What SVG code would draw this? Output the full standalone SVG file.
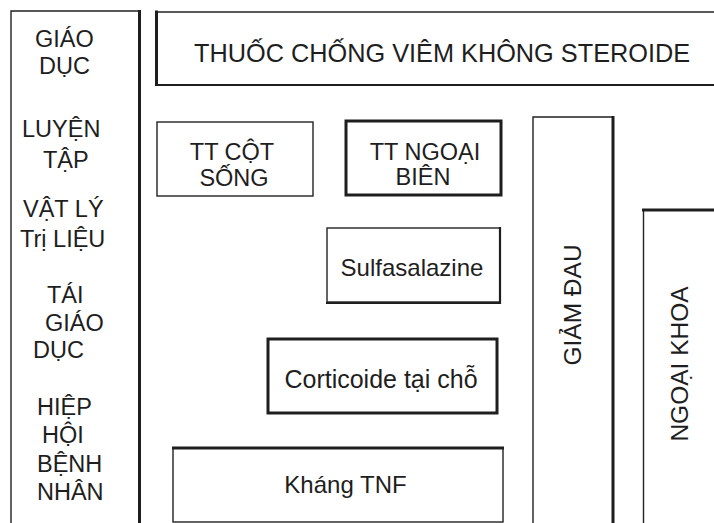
<svg xmlns="http://www.w3.org/2000/svg" width="714" height="523" viewBox="0 0 714 523">
<style>
text{font-family:"Liberation Sans",Arial,Helvetica,sans-serif;fill:#1e1e1e}
.thin{fill:none;stroke:#222;stroke-width:1.4}
.thick{fill:none;stroke:#1e1e1e;stroke-width:3}
.mid{fill:none;stroke:#1e1e1e;stroke-width:2.2}
.lc{font-size:23.5px}
.c{text-anchor:middle}
</style>
<rect width="714" height="523" fill="#fff"/>
<g id="connectors"/>
<g id="left-column">
<path class="thin" d="M11,530 V11 H139"/>
<path class="thick" d="M139.5,10 V530"/>
<text class="lc" x="35" y="47">GIÁO</text>
<text class="lc" x="39" y="74">DỤC</text>
<text class="lc" x="22" y="137">LUYỆN</text>
<text class="lc" x="43" y="168">TẬP</text>
<text class="lc" x="23" y="217">VẬT LÝ</text>
<text class="lc" x="20" y="247">Trị LIỆU</text>
<text class="lc" x="47" y="303">TÁI</text>
<text class="lc" x="45" y="331">GIÁO</text>
<text class="lc" x="33" y="358">DỤC</text>
<text class="lc" x="37" y="415">HIỆP</text>
<text class="lc" x="42" y="443">HỘI</text>
<text class="lc" x="37" y="472">BỆNH</text>
<text class="lc" x="37" y="500">NHÂN</text>
</g>
<g id="nsaid">
<path class="thin" d="M155,12 H720"/>
<path class="mid" d="M155,85 H720"/>
<path class="thick" d="M156.5,10.5 V86"/>
<text x="194" y="62" font-size="25.3">THUỐC CHỐNG VIÊM KHÔNG STEROIDE</text>
</g>
<g id="tt-cot-song">
<rect class="thin" x="157" y="122" width="156" height="74"/>
<text class="c" x="232" y="160" font-size="23.5">TT CỘT</text>
<text class="c" x="234" y="186" font-size="23.5">SỐNG</text>
</g>
<g id="tt-ngoai-bien">
<rect class="thick" x="346" y="121" width="155" height="74"/>
<text class="c" x="425" y="160" font-size="23.5">TT NGOẠI</text>
<text class="c" x="423" y="185" font-size="23.5">BIÊN</text>
</g>
<g id="sulfasalazine">
<rect class="thin" x="327" y="228" width="173" height="74"/>
<path class="mid" d="M500,227 V303 H326"/>
<text class="c" x="412" y="276" font-size="24">Sulfasalazine</text>
</g>
<g id="corticoide">
<rect class="thick" x="268" y="339" width="229" height="74"/>
<text class="c" x="381" y="388" font-size="25">Corticoide tại chỗ</text>
</g>
<g id="khang-tnf">
<rect class="thin" x="173" y="448" width="330" height="74"/>
<path class="thick" d="M172,448 H504"/>
<text class="c" x="345.5" y="493" font-size="24">Kháng TNF</text>
</g>
<g id="giam-dau">
<path class="thin" d="M533,530 V117 H613"/>
<path class="thick" d="M613,116 V530"/>
<text class="c" x="581" y="305" font-size="24.5" transform="rotate(-90 581 305)">GIẢM ĐAU</text>
</g>
<g id="ngoai-khoa">
<path class="thin" d="M643.5,530 V209"/>
<path class="thick" d="M642,210 H720"/>
<text class="c" x="688" y="364" font-size="24.5" transform="rotate(-90 688 364)">NGOẠI KHOA</text>
</g>
</svg>
